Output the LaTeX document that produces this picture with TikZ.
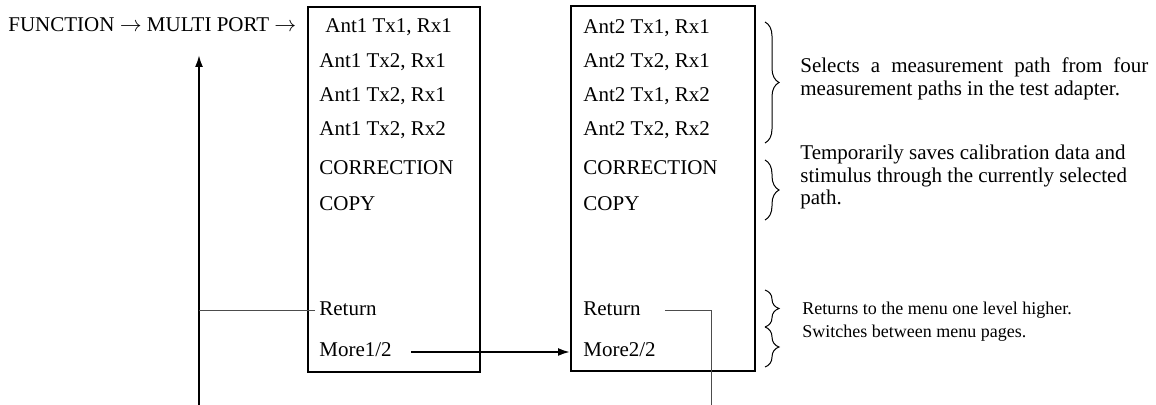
\documentclass[tikz,border=0pt]{standalone}
\usepackage{amsmath}
\usepackage{fontspec}
\setmainfont{Liberation Serif}
\usetikzlibrary{arrows.meta,decorations.pathreplacing}

\begin{document}
\begin{tikzpicture}[x=0.5pt,y=-0.5pt,
        item/.style={anchor=west,inner sep=2pt,text height=0.7em,text depth=0.2em,font=\fontsize{10.5}{12}\selectfont},
        menubox/.style={draw,line width=1pt,minimum height=182.5pt},
        arr/.style={line width=1pt,-{Latex[length=6pt,width=4pt]}},
        thinline/.style={line width=0.5pt,black!70},
        brace/.style={decorate,decoration={brace,amplitude=7pt},line width=0.5pt},
        desc/.style={anchor=west,inner sep=2pt,align=left,font=\fontsize{10.5}{11.4}\selectfont}]
        \useasboundingbox (0,0) rectangle (1156,405);
        \node[menubox,minimum width=86pt] (box1) at (394,189.5) {};
        \node[menubox,minimum width=92pt] (box2) at (663,188.5) {};
        \node[item] (path) at (4,27) {FUNCTION $\rightarrow$ MULTI PORT $\rightarrow$};
        % first menu page
        \node[item] (a1r1) at (321,28) {Ant1 Tx1, Rx1};
        \node[item] (a1r2) at (315,63) {Ant1 Tx2, Rx1};
        \node[item] (a1r3) at (315,97) {Ant1 Tx2, Rx1};
        \node[item] (a1r4) at (315,131) {Ant1 Tx2, Rx2};
        \node[item] (corr1) at (315,170) {CORRECTION};
        \node[item] (copy1) at (315,206) {COPY};
        \node[item] (return1) at (315,311) {Return};
        \node[item] (more1) at (315,352) {More1/2};
        % second menu page
        \node[item] (a2r1) at (579,29) {Ant2 Tx1, Rx1};
        \node[item] (a2r2) at (579,63) {Ant2 Tx2, Rx1};
        \node[item] (a2r3) at (579,97) {Ant2 Tx1, Rx2};
        \node[item] (a2r4) at (579,131) {Ant2 Tx2, Rx2};
        \node[item] (corr2) at (579,170) {CORRECTION};
        \node[item] (copy2) at (579,206) {COPY};
        \node[item] (return2) at (579,311) {Return};
        \node[item] (more2) at (579,352) {More2/2};
        % connectors
        \coordinate (foot) at (199,405);
        \coordinate (tip) at (199,55);
        \coordinate (exit2) at (711,405);
        \draw[arr] (foot) -- (tip);
        \draw[thinline] (return1.west) -- (return1.west -| foot);
        \draw[arr,shorten <=7.5pt] (more1.east) -- (more1.east -| box2.west);
        \draw[thinline,shorten <=10pt] (return2.east) -| (exit2);
        % braces and notes
        \draw[brace] (765,22) -- (765,143);
        \draw[brace] (765,160) -- (765,220);
        \draw[brace] (765,290) -- (765,327);
        \draw[brace] (765,327) -- (765,367);
        \node[desc,text width=174pt,align=justify] (selnote) at (796,79) {Selects a measurement path from four measurement paths in the test adapter.};
        \node[desc] (corrnote) at (796,177) {Temporarily saves calibration data and\\stimulus through the currently selected\\path.};
        \node[desc,font=\fontsize{9}{11}\selectfont] (retnote) at (798,310) {Returns to the menu one level higher.};
        \node[desc,font=\fontsize{9}{11}\selectfont] (morenote) at (798,333) {Switches between menu pages.};
\end{tikzpicture}
\end{document}
